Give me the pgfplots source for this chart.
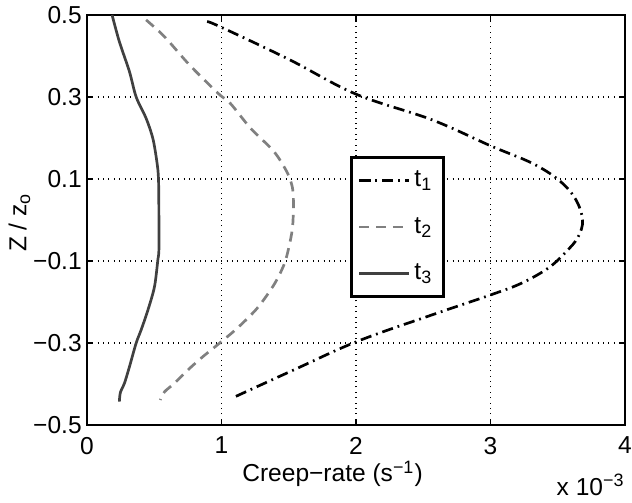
\documentclass[11pt,border=0pt]{standalone}
\usepackage{fontspec}
\setmainfont{Liberation Sans}
\usepackage{pgfplots}
\pgfplotsset{compat=1.18}

\definecolor{tonegray}{gray}{0.5}
\definecolor{tdark}{gray}{0.25}

\begin{document}
\begin{tikzpicture}
\begin{axis}[
  width=240.2pt, height=183pt, scale only axis, clip=false,
  xmin=0, xmax=4, ymin=-0.5, ymax=0.5,
  xtick={0,1,2,3,4}, xticklabels={0,1,2,3,4},
  ytick={-0.5,-0.3,-0.1,0.1,0.3,0.5},
  yticklabels={−0.5,−0.3,−0.1,0.1,0.3,0.5},
  tick align=inside, major tick length=2.5pt,
  tick style={black, line width=0.5pt},
  axis line style={line width=1.2pt},
  grid=major, grid style={black, dotted, line width=0.5pt},
  xlabel={Creep−rate (s\textsuperscript{−1})},
  ylabel={Z / z\textsubscript{o}},
  xlabel style={at={(rel axis cs:0.288,0)}, anchor=base west,
    yshift=-25.4pt, inner sep=0pt},
  ylabel style={at={(rel axis cs:0,0.494)}, anchor=base,
    yshift=27pt, inner sep=0pt},
  xticklabel style={inner xsep=0pt, yshift=-1.5pt},
  yticklabel style={inner ysep=0pt, xshift=1.5pt},
  legend style={at={(axis cs:1.955,0.156)}, anchor=north west,
    draw=black, line width=1.2pt, inner xsep=3pt, inner ysep=4pt,
    row sep=8pt, column sep=0pt, cells={anchor=west}},
  legend cell align=left,
  legend image code/.code={\draw[#1, line width=1.2pt] (0pt,0pt) -- (22pt,0pt);},
]
% t1 : dash-dot, black
\addplot[black, line width=1.2pt, smooth, tension=0.6,
  dash pattern=on 5pt off 2.2pt on 0.8pt off 2.2pt] coordinates {
 (0.893,0.484) (0.993,0.471) (1.50,0.392) (2.00,0.307)
 (2.56,0.245) (3.007,0.180) (3.306,0.139) (3.505,0.098) (3.63,0.052)
 (3.684,0.000) (3.65,-0.042) (3.56,-0.078) (3.43,-0.117) (3.231,-0.154)
 (3.007,-0.182) (2.56,-0.232) (2.01,-0.296) (1.535,-0.366) (1.075,-0.435)};
\addlegendentry{t\textsubscript{1}}
% t2 : dashed, grey
\addplot[tonegray, line width=1.2pt, smooth, tension=0.5,
  dash pattern=on 4.5pt off 3pt] coordinates {
 (0.44,0.488) (0.577,0.447) (0.763,0.378) (0.975,0.309) (1.067,0.284)
 (1.216,0.224) (1.39,0.167) (1.49,0.115) (1.528,0.078) (1.535,0.038)
 (1.528,-0.019) (1.50,-0.068) (1.465,-0.109) (1.39,-0.158) (1.266,-0.215)
 (1.117,-0.264) (0.987,-0.300) (0.863,-0.333) (0.763,-0.362) (0.651,-0.398)
 (0.577,-0.419) (0.545,-0.439)};
\addlegendentry{t\textsubscript{2}}
% t3 : solid, dark grey
\addplot[tdark, line width=1.2pt, smooth, tension=0.5] coordinates {
 (0.187,0.500) (0.241,0.435) (0.316,0.362) (0.366,0.300) (0.44,0.248)
 (0.49,0.199) (0.52,0.142) (0.532,0.100) (0.535,0.012) (0.535,-0.073)
 (0.527,-0.098) (0.502,-0.163) (0.453,-0.220) (0.403,-0.268) (0.366,-0.300)
 (0.316,-0.358) (0.279,-0.398) (0.249,-0.420) (0.241,-0.443)};
\addlegendentry{t\textsubscript{3}}
\node[anchor=base east, inner sep=0pt] at ([yshift=-31.3pt]rel axis cs:1,0)
  {x 10\textsuperscript{−3}};
\coordinate (sw) at (rel axis cs:0,0);
\coordinate (ne) at (rel axis cs:1,1);
\end{axis}
% page frame in the reference's proportions
\path ([xshift=-38.8pt,yshift=-34.8pt]sw) rectangle ([xshift=3.1pt,yshift=6.7pt]ne);
\end{tikzpicture}
\end{document}
